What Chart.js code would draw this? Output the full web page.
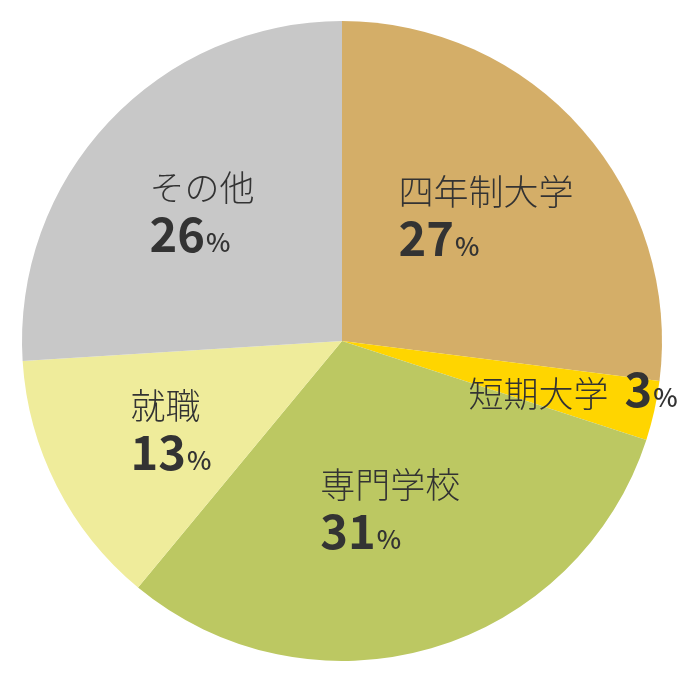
<!DOCTYPE html>
<html>
<head>
<meta charset="utf-8">
<script src="https://cdn.jsdelivr.net/npm/chart.js@4"></script>
<style>
html,body{margin:0;padding:0;background:#fff;}
#wrap{width:680px;height:680px;}
</style>
</head>
<body>
<div id="wrap"><canvas id="c" width="680" height="680"></canvas></div>
<script>
const categories = ['四年制大学', '短期大学', '専門学校', '就職', 'その他'];
const values = [27, 3, 31, 13, 26];
const colors = ['#D4AE68', '#FFD500', '#BCC862', '#EFEC9B', '#C8C8C8'];

// label layout: radial fraction of outer radius, and mode
const labelLayout = [
  {f: 0.6, mode: 'stack'},
  {f: 0.74, mode: 'inline'},
  {f: 0.54, mode: 'stack'},
  {f: 0.6, mode: 'stack'},
  {f: 0.6, mode: 'stack'}
];

const FONT = '"Noto Sans CJK JP", "Noto Sans", sans-serif';
const TEXT_COLOR = '#333333';
const LABEL_FONT = '300 35px ' + FONT;
const NUM_FONT = '700 47px ' + FONT;
const PCT_FONT = '500 26px ' + FONT;

const labelPlugin = {
  id: 'sliceLabels',
  afterDatasetsDraw(chart) {
    const ctx = chart.ctx;
    const meta = chart.getDatasetMeta(0);
    ctx.save();
    ctx.fillStyle = TEXT_COLOR;
    ctx.textBaseline = 'alphabetic';
    ctx.textAlign = 'left';
    meta.data.forEach((arc, i) => {
      const p = arc.getProps(['x', 'y', 'startAngle', 'endAngle', 'outerRadius'], true);
      const mid = (p.startAngle + p.endAngle) / 2;
      const r = p.outerRadius * labelLayout[i].f;
      const cx = p.x + Math.cos(mid) * r;
      const cy = p.y + Math.sin(mid) * r;
      const label = categories[i];
      const num = String(values[i]);
      ctx.font = LABEL_FONT;
      const lw = ctx.measureText(label).width;
      ctx.font = NUM_FONT;
      const nw = ctx.measureText(num).width;
      ctx.font = PCT_FONT;
      const pw = ctx.measureText('%').width;
      if (labelLayout[i].mode === 'stack') {
        const bw = Math.max(lw, nw + 1 + pw);
        const left = cx - bw / 2;
        ctx.font = LABEL_FONT;
        ctx.fillText(label, left, cy - 9);
        ctx.font = NUM_FONT;
        ctx.fillText(num, left, cy + 42);
        ctx.font = PCT_FONT;
        ctx.fillText('%', left + nw + 1, cy + 42);
      } else {
        const gap = 16;
        const tw = lw + gap + nw + 1 + pw;
        const left = cx - tw / 2;
        const base = cy + 14;
        ctx.font = LABEL_FONT;
        ctx.fillText(label, left, base);
        ctx.font = NUM_FONT;
        ctx.fillText(num, left + lw + gap, base);
        ctx.font = PCT_FONT;
        ctx.fillText('%', left + lw + gap + nw + 1, base);
      }
    });
    ctx.restore();
  }
};

new Chart(document.getElementById('c'), {
  type: 'pie',
  data: {
    labels: categories,
    datasets: [{
      data: values,
      backgroundColor: colors,
      borderWidth: 0
    }]
  },
  options: {
    responsive: false,
    animation: false,
    layout: {padding: {top: 21, bottom: 19, left: 22, right: 18}},
    plugins: {
      legend: {display: false},
      tooltip: {enabled: false}
    }
  },
  plugins: [labelPlugin]
});
</script>
</body>
</html>
